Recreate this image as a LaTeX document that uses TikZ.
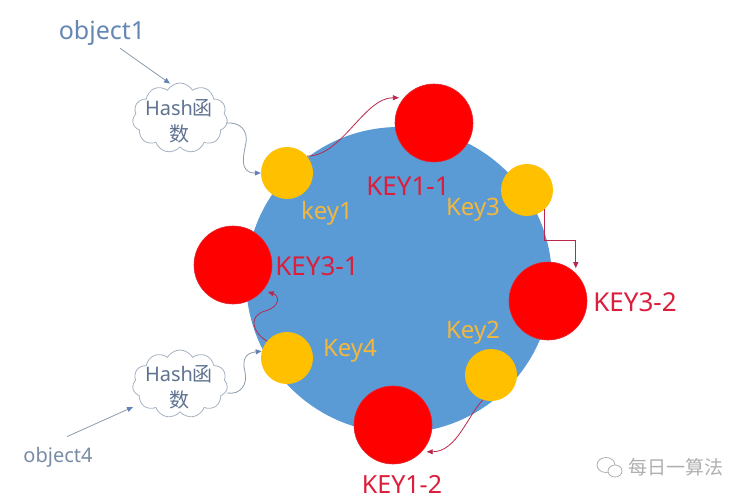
\documentclass[tikz,border=0pt]{standalone}
\usepackage{fontspec}
\setmainfont{Noto Sans}
\newfontfamily\cjk{Noto Sans CJK SC}
\usetikzlibrary{shapes.symbols,arrows.meta,calc}
\definecolor{ringblue}{RGB}{91,155,213}
\definecolor{keyorange}{RGB}{255,192,0}
\definecolor{keytext}{RGB}{242,183,60}
\definecolor{redfill}{RGB}{255,0,0}
\definecolor{redline}{RGB}{225,40,50}
\definecolor{redtext}{RGB}{220,30,60}
\definecolor{linkred}{RGB}{185,40,75}
\definecolor{objtext}{RGB}{100,135,180}
\definecolor{objgray}{RGB}{120,140,165}
\definecolor{cloudline}{RGB}{165,178,195}
\definecolor{cloudtext}{RGB}{95,115,145}
\definecolor{linkgray}{RGB}{140,155,175}
\definecolor{tipblue}{RGB}{100,130,180}
\definecolor{wmgray}{RGB}{175,175,175}
\begin{document}
\begin{tikzpicture}[x=1pt,y=-1pt,
  ring/.style={circle,fill=ringblue,inner sep=0,minimum size=306pt},
  keydot/.style={circle,fill=keyorange,inner sep=0,minimum size=52pt},
  reddot/.style={circle,fill=redfill,draw=redline,line width=0.6pt,inner sep=0,minimum size=78pt},
  keylbl/.style={text=keytext,font=\fontsize{24}{28}\selectfont,anchor=base,inner sep=0},
  redlbl/.style={text=redtext,font=\fontsize{26}{30}\selectfont,anchor=base,inner sep=0},
  objlbl/.style={anchor=base,inner sep=0},
  hashcloud/.style={cloud,cloud puffs=11,cloud puff arc=120,aspect=1.4,draw=cloudline,fill=white,line width=0.8pt,inner sep=0,minimum width=95pt,minimum height=70pt},
  cloudlbl/.style={text=cloudtext,font=\fontsize{20}{26}\selectfont,align=center,inner sep=0},
  redlink/.style={draw=linkred,line width=0.8pt,shorten >=5pt,-{Triangle[length=6pt,width=5pt]}},
  graylink/.style={draw=linkgray,line width=0.8pt,-{Triangle[length=6pt,width=5pt,color=tipblue]}},
]
\useasboundingbox (0,0) rectangle (747,500);
\fill[white] (0,0) rectangle (747,500);

% ring and points
\node[ring] (ring) at (399,280) {};
\node[keydot] (k1) at (287,173) {};
\node[keydot] (k3) at (527,190) {};
\node[keydot] (k4) at (287,358) {};
\node[keydot] (k2) at (491,375) {};
\node[reddot] (r11) at (434,123) {};
\node[reddot] (r32) at (548,301) {};
\node[reddot] (r31) at (233,265) {};
\node[reddot] (r12) at (393,425) {};

% labels
\node[redlbl] (l11) at (408,195) {KEY1-1};
\node[redlbl] (l32) at (635,311) {KEY3-2};
\node[redlbl] (l31) at (317,275) {KEY3-1};
\node[redlbl,font=\fontsize{25}{30}\selectfont] (l12) at (402,493) {KEY1-2};
\node[keylbl] (lk1) at (327,219) {key1};
\node[keylbl] (lk3) at (473,215) {Key3};
\node[keylbl] (lk2) at (473,338) {Key2};
\node[keylbl] (lk4) at (350,356) {Key4};

% objects and hash clouds
\node[objlbl,text=objtext,font=\fontsize{25}{30}\selectfont] (o1) at (102,40) {object1};
\node[objlbl,text=objgray,font=\fontsize{20}{24}\selectfont] (o4) at (58,462) {object4};
\node[hashcloud] (c1) at (180,118) {};
\node[cloudlbl] (c1t) at (179,121) {Hash{\cjk 函}\\{\cjk 数}};
\node[hashcloud,minimum height=68pt] (c2) at (180,384) {};
\node[cloudlbl] (c2t) at (179,387) {Hash{\cjk 函}\\{\cjk 数}};

% connectors
\draw[graylink] ($(o1.south)+(18,2)$) -- ($(c1.north)+(-10,1)$);
\draw[graylink] ($(c1.east)+(-1,5)$) .. controls (240,122) and (248,130) .. (246,143)
   .. controls (244,153) and (238,173) .. (k1.west);
\draw[graylink] ($(o4.north)+(9,-10)$) -- ($(c2.center)+(-47,23)$);
\draw[graylink] ($(c2.east)+(0,9)$) .. controls (240,395) and (248,385) .. (245,372)
   .. controls (242,360) and (245,353) .. (k4.165);

\draw[redlink] (k1.40) .. controls +(35,0) and +(-40,0) .. (r11.140);
\draw[redlink] (k3.-48) -- ++(0,31) -| (r32.45);
\draw[redlink] (k2.-108) .. controls +(-15,15) and +(35,0) .. (r12.-43);
\draw[redlink] (k4.140) .. controls (252,332) and (248,316) .. (265,311)
   .. controls (280,307) and (280,296) .. (r31.-40);

% watermark
\draw[wmgray,line width=0.8pt] (606,465) ellipse (9 and 7.5);
\draw[wmgray,line width=0.8pt,fill=white] (615,471) ellipse (7 and 6);
\node[text=wmgray,font=\cjk\fontsize{19}{22}\selectfont,anchor=west,inner sep=0] (wm) at (628,467) {每日一算法};
\end{tikzpicture}
\end{document}
